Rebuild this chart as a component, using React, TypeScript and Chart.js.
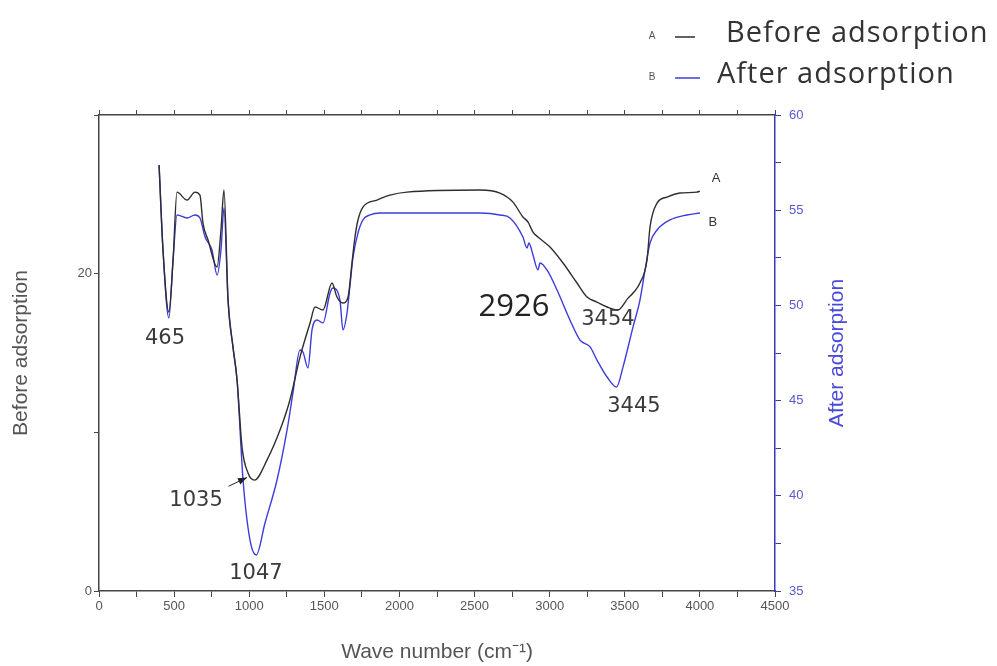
import React, { useEffect, useRef } from 'react';
import { Chart, registerables } from 'chart.js';

Chart.register(...registerables);

// Curve A: Before adsorption (left axis)
const waveA = [400, 426, 465, 493, 519, 586, 639, 672, 692, 726, 786, 812, 832, 859, 892, 919, 952, 992, 1035, 1118, 1205, 1271, 1338, 1405, 1438, 1491, 1551, 1584, 1624, 1658, 1684, 1704, 1724, 1757, 1851, 1937, 2050, 2536, 2669, 2756, 2822, 2856, 2889, 2922, 3002, 3089, 3182, 3249, 3315, 3382, 3454, 3522, 3555, 3601, 3648, 3668, 3715, 3781, 3868, 3981, 4000];
const valuesA = [26.84, 21.49, 17.58, 20.86, 25.14, 24.64, 25.14, 24.95, 23.19, 22.12, 20.42, 22.75, 25.27, 18.34, 15.37, 13.3, 9.07, 7.44, 6.99, 8.25, 10.14, 12.04, 14.74, 16.89, 17.9, 17.71, 19.41, 18.53, 18.15, 18.53, 20.67, 22.31, 23.38, 24.2, 24.64, 24.95, 25.14, 25.27, 25.08, 24.51, 23.57, 23.25, 22.62, 22.31, 21.68, 20.67, 19.41, 18.53, 18.21, 17.9, 17.71, 18.46, 18.78, 19.41, 20.86, 22.94, 24.45, 24.83, 25.08, 25.14, 25.2];

// Curve B: After adsorption (right axis)
const waveB = [400, 426, 465, 493, 519, 586, 639, 672, 706, 752, 786, 812, 832, 859, 892, 919, 959, 1005, 1047, 1105, 1185, 1252, 1291, 1338, 1358, 1391, 1418, 1451, 1491, 1538, 1558, 1604, 1624, 1651, 1671, 1691, 1724, 1757, 1804, 1871, 2050, 2536, 2669, 2736, 2822, 2849, 2862, 2889, 2922, 2936, 2982, 3049, 3135, 3202, 3269, 3315, 3382, 3445, 3488, 3555, 3601, 3635, 3668, 3715, 3801, 3914, 4000];
const valuesB = [57.37, 52.91, 49.34, 52.38, 54.75, 54.59, 54.75, 54.59, 53.59, 52.91, 51.6, 52.91, 55.12, 50.28, 47.81, 46.08, 40.83, 37.68, 36.89, 38.57, 40.83, 43.46, 45.4, 47.66, 47.55, 46.71, 48.71, 49.23, 49.08, 50.65, 50.91, 50.28, 48.71, 49.6, 51.07, 52.54, 53.8, 54.49, 54.75, 54.85, 54.85, 54.85, 54.75, 54.59, 53.59, 53.01, 53.28, 52.65, 51.86, 52.23, 51.86, 50.81, 49.23, 48.18, 47.82, 47.13, 46.24, 45.71, 46.76, 48.87, 50.28, 51.86, 53.28, 53.96, 54.49, 54.75, 54.85];

const xLabelValues = [0, 500, 1000, 1500, 2000, 2500, 3000, 3500, 4000, 4500];
const leftLabelValues = [0, 20];
const rightLabelValues = [35, 40, 45, 50, 55, 60];

// Peak annotations: [text, wavenumber, left-axis value]
const peakTexts = ['465', '1035', '1047', '2926', '3454', '3445'];
const peakX = [439, 646, 1045, 2763, 3388, 3561];
const peakY = [15.94, 5.73, 1.13, 17.9, 17.08, 11.6];
const peakBig = [false, false, false, true, false, false];

// Arrow for 1035 (from, to) in data units
const arrowX = [862, 985];
const arrowY = [6.6, 7.15];

// Curve end labels
const endTexts = ['A', 'B'];
const endX = [4107, 4087];
const endY = [26.02, 23.25];

const legendLetters = ['A', 'B'];
const legendNames = ['Before adsorption', 'After adsorption'];

const BLACK = '#2e2e2e';
const BLUE = '#3c3cdc';
const AXIS_BLUE = '#3a3ab0';
const LABEL_BLUE = '#5a5ad0';
const GRAY = '#555555';

const overlay = {
  id: 'overlay',
  afterDraw(chart: any) {
    const ctx = chart.ctx;
    const xs = chart.scales.x;
    const yl = chart.scales.y;
    const area = chart.chartArea;
    ctx.save();
    // peak labels
    ctx.textAlign = 'center';
    ctx.textBaseline = 'middle';
    peakTexts.forEach((t, i) => {
      ctx.fillStyle = peakBig[i] ? '#222' : '#3a3a3a';
      ctx.font = peakBig[i] ? '31px "Open Sans"' : '21px "DejaVu Sans"';
      ctx.fillText(t, xs.getPixelForValue(peakX[i]), yl.getPixelForValue(peakY[i]));
    });
    // arrow
    const ax0 = xs.getPixelForValue(arrowX[0]);
    const ay0 = yl.getPixelForValue(arrowY[0]);
    const ax1 = xs.getPixelForValue(arrowX[1]);
    const ay1 = yl.getPixelForValue(arrowY[1]);
    ctx.strokeStyle = '#222';
    ctx.lineWidth = 1;
    ctx.beginPath();
    ctx.moveTo(ax0, ay0);
    ctx.lineTo(ax1, ay1);
    ctx.stroke();
    const ang = Math.atan2(ay1 - ay0, ax1 - ax0);
    ctx.fillStyle = '#222';
    ctx.beginPath();
    ctx.moveTo(ax1, ay1);
    ctx.lineTo(ax1 - 9 * Math.cos(ang) + 3.5 * Math.sin(ang), ay1 - 9 * Math.sin(ang) - 3.5 * Math.cos(ang));
    ctx.lineTo(ax1 - 9 * Math.cos(ang) - 3.5 * Math.sin(ang), ay1 - 9 * Math.sin(ang) + 3.5 * Math.cos(ang));
    ctx.closePath();
    ctx.fill();
    // end labels
    ctx.font = '13px "Liberation Sans"';
    ctx.fillStyle = '#333';
    endTexts.forEach((t, i) => {
      ctx.fillText(t, xs.getPixelForValue(endX[i]), yl.getPixelForValue(endY[i]));
    });
    // right axis title
    ctx.save();
    ctx.translate(area.right + 62, (area.top + area.bottom) / 2);
    ctx.rotate(-Math.PI / 2);
    ctx.font = '21px "Liberation Sans"';
    ctx.fillStyle = '#4a4ad8';
    ctx.fillText('After adsorption', 0, 0);
    ctx.restore();
    // legend
    const rows = [36, 77];
    const dashStart = [675, 675];
    const dashEnd = [695, 700];
    const nameX = [726, 717];
    const colors = [BLACK, BLUE];
    legendLetters.forEach((l, i) => {
      ctx.textAlign = 'center';
      ctx.font = '10px "Liberation Sans"';
      ctx.fillStyle = '#555';
      (ctx as any).letterSpacing = '0px';
      ctx.fillText(l, 652, rows[i]);
      ctx.strokeStyle = colors[i];
      ctx.lineWidth = 1.5;
      ctx.beginPath();
      ctx.moveTo(dashStart[i], rows[i] + 1);
      ctx.lineTo(dashEnd[i], rows[i] + 1);
      ctx.stroke();
      ctx.textAlign = 'left';
      ctx.font = '29px "Open Sans"';
      (ctx as any).letterSpacing = '1px';
      ctx.fillStyle = '#333';
      ctx.fillText(legendNames[i], nameX[i], rows[i] - 2);
      (ctx as any).letterSpacing = '0px';
    });
    ctx.restore();
  },
};

export default function App() {
  const ref = useRef<HTMLCanvasElement | null>(null);
  useEffect(() => {
    document.body.style.margin = '0';
    const canvas = ref.current;
    if (!canvas) return;
    const tickFont = { family: '"Liberation Sans", Arial, sans-serif', size: 13 };
    const chart = new Chart(canvas, {
      type: 'line',
      data: {
        datasets: [
          {
            label: 'Before adsorption',
            data: waveA.map((w, i) => ({ x: w, y: valuesA[i] })),
            borderColor: BLACK,
            borderWidth: 1.4,
            pointRadius: 0,
            cubicInterpolationMode: 'monotone',
            yAxisID: 'y',
            xAxisID: 'x',
          },
          {
            label: 'After adsorption',
            data: waveB.map((w, i) => ({ x: w, y: valuesB[i] })),
            borderColor: BLUE,
            borderWidth: 1.4,
            pointRadius: 0,
            cubicInterpolationMode: 'monotone',
            yAxisID: 'y1',
            xAxisID: 'x',
          },
        ],
      },
      options: {
        animation: false,
        responsive: false,
        maintainAspectRatio: false,
        layout: { padding: { top: 109, right: 162, left: 0, bottom: 0 } },
        plugins: { legend: { display: false }, tooltip: { enabled: false } },
        scales: {
          x: {
            type: 'linear',
            position: 'bottom',
            min: 0,
            max: 4500,
            afterFit: (s: any) => { s.height = 75; },
            ticks: {
              stepSize: 250,
              autoSkip: false,
              maxRotation: 0,
              color: GRAY,
              font: tickFont,
              padding: 2,
              callback: (v: any) => (xLabelValues.includes(v) ? String(v) : ''),
            },
            grid: { drawOnChartArea: false, drawTicks: true, tickLength: 6, color: '#444' },
            border: { display: true, color: '#444', width: 1.5 },
            title: {
              display: true,
              text: 'Wave number (cm⁻¹)',
              color: GRAY,
              font: { family: '"Liberation Sans", Arial, sans-serif', size: 21 },
              padding: { top: 0, bottom: 1 },
            },
          },
          x2: {
            type: 'linear',
            position: 'top',
            min: 0,
            max: 4500,
            afterFit: (s: any) => { s.height = 6; },
            ticks: { stepSize: 250, display: false, autoSkip: false },
            grid: { drawOnChartArea: false, drawTicks: true, tickLength: 5, color: '#444' },
            border: { display: true, color: '#444', width: 1.5 },
          },
          y: {
            type: 'linear',
            position: 'left',
            min: 0,
            max: 30,
            afterFit: (s: any) => { s.width = 99; },
            ticks: {
              stepSize: 10,
              color: GRAY,
              font: tickFont,
              padding: 2,
              callback: (v: any) => (leftLabelValues.includes(v) ? String(v) : ''),
            },
            grid: { drawOnChartArea: false, drawTicks: true, tickLength: 5, color: '#444' },
            border: { display: true, color: '#444', width: 1.5 },
            title: {
              display: true,
              text: 'Before adsorption',
              color: GRAY,
              font: { family: '"Liberation Sans", Arial, sans-serif', size: 21 },
              padding: { top: 9, bottom: 0 },
            },
          },
          y1: {
            type: 'linear',
            position: 'right',
            min: 35,
            max: 60,
            afterFit: (s: any) => { s.width = 60; },
            ticks: {
              stepSize: 2.5,
              color: LABEL_BLUE,
              font: tickFont,
              padding: 8,
              callback: (v: any) => (rightLabelValues.includes(v) ? String(v) : ''),
            },
            grid: { drawOnChartArea: false, drawTicks: true, tickLength: 6, color: AXIS_BLUE },
            border: { display: true, color: AXIS_BLUE, width: 1.5 },
          },
        },
      },
      plugins: [overlay],
    } as any);
    return () => chart.destroy();
  }, []);
  return (
    <div style={{ width: 997, height: 666, background: '#fff' }}>
      <canvas ref={ref} width={997} height={666} style={{ display: 'block' }} />
    </div>
  );
}
